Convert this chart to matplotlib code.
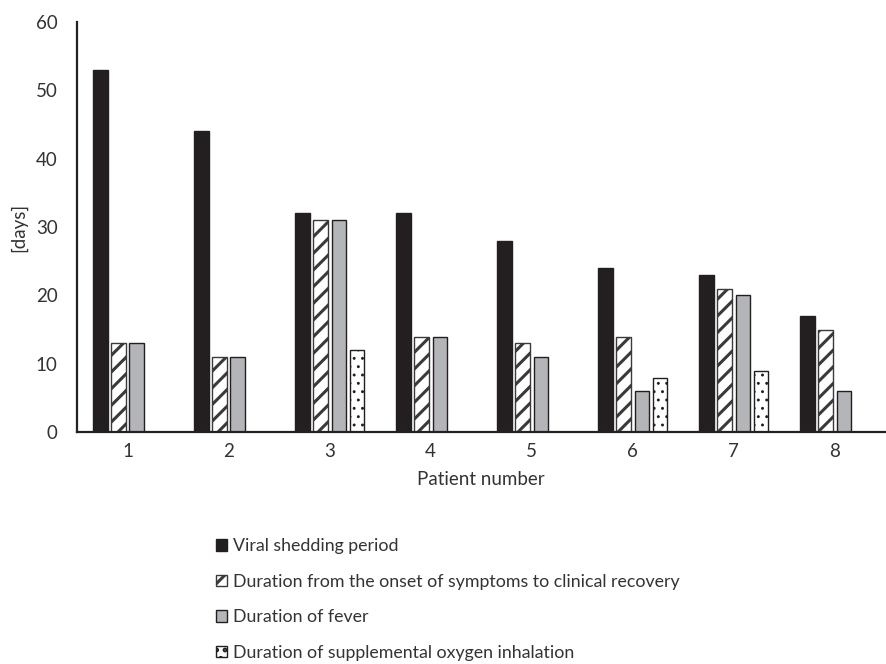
import numpy as np
import matplotlib
matplotlib.use("Agg")
import matplotlib.pyplot as plt

plt.rcParams['font.family'] = ['Lato', 'DejaVu Sans']
plt.rcParams['hatch.linewidth'] = 2.2

patients = ['1', '2', '3', '4', '5', '6', '7', '8']
viral = [53, 44, 32, 32, 28, 24, 23, 17]
recovery = [13, 11, 31, 14, 13, 14, 21, 15]
fever = [13, 11, 31, 14, 11, 6, 20, 6]
oxygen = [np.nan, np.nan, 12, np.nan, np.nan, 8, 9, np.nan]

labels = ['Viral shedding period',
          'Duration from the onset of symptoms to clinical recovery',
          'Duration of fever',
          'Duration of supplemental oxygen inhalation']

fig = plt.figure(figsize=(8.87, 6.64), dpi=100)
ax = fig.add_axes([0.087, 0.349, 0.911, 0.618])

x = np.arange(1, len(patients) + 1)
step = 0.181
w = 0.145
edge = '#231f20'
txt = '#333333'

ax.bar(x - 1.5*step, viral, w, color='#231f20', edgecolor=edge, linewidth=1, label=labels[0])
ax.bar(x - 0.5*step, recovery, w, color='white', edgecolor='#3a3a3a', hatch='//', linewidth=1, label=labels[1])
ax.bar(x + 0.5*step, fever, w, color='#b4b5b8', edgecolor=edge, linewidth=1, label=labels[2])
with plt.rc_context({'hatch.linewidth': 0.9}):
    ax.bar(x + 1.5*step, oxygen, w, color='white', edgecolor=edge, hatch='..', linewidth=1, label=labels[3])

ax.set_xlim(0.5, 8.5)
ax.set_ylim(0, 60)
ax.set_yticks(range(0, 61, 10))
ax.set_xticks(x)
ax.set_xticklabels(patients)
ax.tick_params(length=0, labelsize=13.5, colors=txt, pad=8)
ax.tick_params(axis='y', pad=14)
for s in ['top', 'right']:
    ax.spines[s].set_visible(False)
for s in ['left', 'bottom']:
    ax.spines[s].set_linewidth(1.6)
    ax.spines[s].set_color('#222222')

ax.set_ylabel('[days]', fontsize=13.5, color=txt, labelpad=6)
ax.set_xlabel('Patient number', fontsize=13.5, color=txt, labelpad=8)

fig.legend(loc='upper left', bbox_to_anchor=(0.236, 0.2), frameon=False,
           fontsize=12.8, handlelength=0.62, handleheight=0.62, handletextpad=0.3,
           labelspacing=1.1, borderaxespad=0, labelcolor=txt)

fig.savefig('out.png', dpi=100)
